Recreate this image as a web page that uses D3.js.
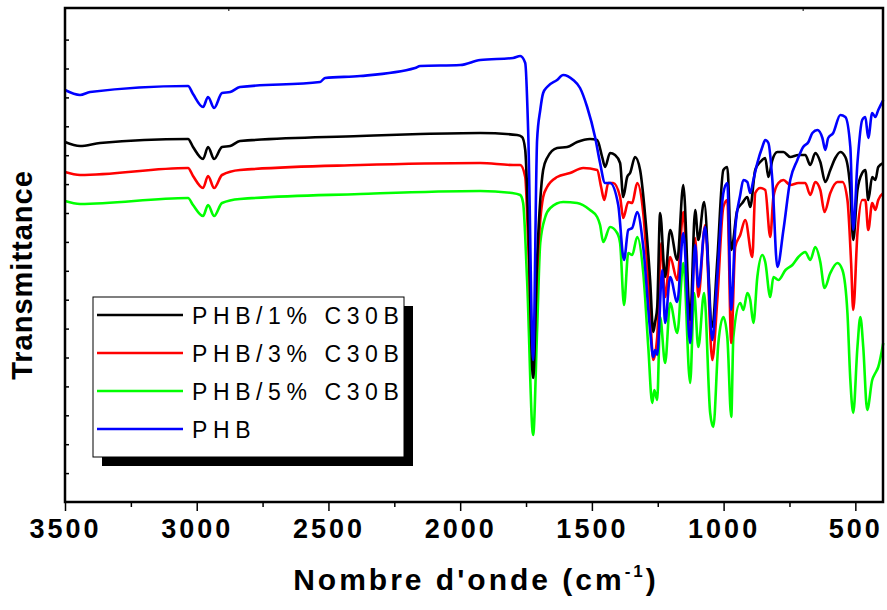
<!DOCTYPE html>
<html>
<head>
<meta charset="utf-8">
<script src="https://cdn.jsdelivr.net/npm/d3@7"></script>
<style>
  body { margin: 0; background: #fff; }
  text { font-family: "Liberation Sans", Arial, sans-serif; }
</style>
</head>
<body>
<div id="chart"></div>
<script>
// wavenumber (cm-1), transmittance (a.u.)
var phb = [[3500,412],[3443,407],[3405,410],[3033,416],[3014,408],[2976,395],[2957,405],[2934,394],[2904,409],[2873,410],[2836,415],[2532,420],[2513,424],[2380,426],[2171,434],[2152,436],[2000,437],[1924,442],[1799,444],[1772,446],[1753,439],[1742,372],[1723,142],[1708,362],[1696,392],[1685,409],[1670,415],[1632,422],[1609,427],[1571,422],[1545,414],[1518,395],[1488,365],[1469,339],[1450,319],[1431,319],[1400,297],[1378,242],[1362,272],[1347,274],[1328,290],[1305,255],[1279,172],[1267,145],[1260,152],[1252,147],[1233,232],[1222,179],[1203,225],[1176,200],[1153,269],[1127,159],[1108,257],[1096,215],[1070,275],[1043,162],[1024,225],[1001,309],[986,319],[971,192],[956,272],[937,307],[925,322],[910,320],[899,309],[887,322],[872,339],[853,355],[842,362],[830,359],[815,322],[796,235],[773,272],[747,322],[720,342],[698,355],[678,360],[663,369],[644,372],[625,364],[614,352],[603,364],[584,369],[557,387],[538,385],[519,355],[508,272],[492,339],[474,382],[462,385],[451,364],[436,389],[424,385],[413,392],[394,402]];

var phb1 = [[3500,360],[3443,356],[3367,359],[3033,363],[3014,355],[2976,343],[2957,355],[2934,343],[2904,355],[2873,356],[2836,361],[2380,366],[2152,368],[1924,369],[1784,367],[1765,365],[1753,352],[1742,282],[1723,124],[1708,242],[1696,302],[1685,332],[1670,344],[1632,354],[1594,355],[1556,360],[1507,363],[1480,362],[1461,345],[1450,335],[1431,349],[1412,347],[1393,339],[1381,305],[1366,325],[1355,329],[1336,345],[1317,332],[1298,287],[1279,222],[1267,170],[1260,180],[1252,195],[1241,289],[1222,225],[1203,272],[1176,242],[1153,317],[1127,182],[1108,292],[1096,262],[1074,300],[1043,175],[1024,242],[1001,332],[986,335],[971,252],[948,292],[929,299],[910,305],[899,295],[880,332],[861,340],[842,344],[830,325],[815,342],[796,350],[773,350],[747,345],[716,347],[690,347],[671,337],[652,349],[633,340],[614,320],[595,332],[576,344],[557,350],[538,345],[519,312],[508,262],[492,312],[474,329],[462,332],[451,302],[436,325],[424,322],[413,335],[394,339]];

var phb3 = [[3500,330],[3443,327],[3033,334],[3014,326],[2976,314],[2957,326],[2934,314],[2904,327],[2836,332],[2380,337],[1924,339],[1799,337],[1772,337],[1753,325],[1742,262],[1723,142],[1708,232],[1696,282],[1685,305],[1670,315],[1632,325],[1583,329],[1533,334],[1480,332],[1465,315],[1453,302],[1438,319],[1419,319],[1393,305],[1381,284],[1362,300],[1347,299],[1328,319],[1305,289],[1279,189],[1267,142],[1252,165],[1237,259],[1222,205],[1203,245],[1176,222],[1153,290],[1127,172],[1108,264],[1096,205],[1070,277],[1043,142],[1024,202],[1001,295],[986,302],[971,159],[956,255],[937,267],[918,282],[891,245],[880,309],[861,314],[842,312],[823,265],[811,305],[792,319],[773,322],[747,317],[716,319],[690,319],[671,307],[652,320],[633,312],[617,290],[595,309],[568,320],[549,320],[530,302],[516,239],[508,192],[492,269],[474,302],[462,302],[451,272],[436,299],[424,292],[413,302],[394,309]];

var phb5 = [[3500,301],[3443,298],[3033,304],[3014,297],[2976,286],[2957,297],[2934,286],[2904,299],[2836,303],[2380,308],[1924,311],[1803,309],[1772,307],[1761,299],[1746,222],[1723,67],[1708,172],[1696,259],[1677,285],[1658,294],[1609,300],[1556,299],[1507,292],[1480,285],[1469,277],[1457,260],[1431,275],[1404,269],[1393,259],[1378,197],[1362,249],[1347,247],[1328,265],[1305,229],[1286,155],[1271,99],[1263,112],[1252,102],[1241,185],[1222,139],[1203,199],[1176,169],[1153,239],[1127,119],[1112,209],[1096,155],[1074,209],[1051,89],[1039,75],[1020,159],[1001,185],[986,165],[971,85],[963,165],[937,199],[925,192],[910,209],[899,202],[887,179],[872,225],[853,247],[842,240],[823,205],[811,225],[792,222],[765,232],[739,237],[716,245],[690,250],[671,242],[652,255],[633,240],[617,214],[595,229],[568,239],[549,232],[530,189],[519,122],[508,89],[492,155],[481,185],[470,155],[455,92],[436,122],[424,129],[413,135],[394,159]];

var seriesNames = ["PHB/1% C30B", "PHB/3% C30B", "PHB/5% C30B", "PHB"];
var seriesColors = ["#000000", "#ff0000", "#00ff00", "#0000ff"];
var seriesData = [phb1, phb3, phb5, phb];

var majorTicks = [3500, 3000, 2500, 2000, 1500, 1000, 500];
var minorTicks = [3250, 2750, 2250, 1750, 1250, 750];
var topTicks = [2880, 700];

var margin = {top: 8, right: 4, bottom: 108, left: 65},
    width = 887 - margin.left - margin.right,
    height = 610 - margin.top - margin.bottom;

var svg = d3.select("#chart")
    .append("svg")
    .attr("width", width + margin.left + margin.right)
    .attr("height", height + margin.top + margin.bottom)
    .append("g")
    .attr("transform", "translate(" + margin.left + "," + margin.top + ")");

var x = d3.scaleLinear()
    .domain([3500, 395])
    .range([0, width]);

var y = d3.scaleLinear()
    .domain([0, 494])
    .range([height, 0]);

// left ticks every 28.9 units, no labels
var yTicks = d3.range(28.9, 480, 28.9);

// bottom axis: major with labels, minor without
var xAxis = svg.append("g")
    .attr("transform", "translate(0," + height + ")")
    .call(d3.axisBottom(x).tickValues(majorTicks).tickSize(9).tickPadding(8).tickFormat(d3.format("d")));
xAxis.select(".domain").remove();
xAxis.selectAll("line").attr("stroke-width", 1.5);
xAxis.selectAll("text")
    .attr("font-size", "27px")
    .attr("font-weight", "bold")
    .attr("letter-spacing", "3px")
    .attr("fill", "#000")
    .style("font-family", "'Liberation Sans', Arial, sans-serif");

var xMinor = svg.append("g")
    .attr("transform", "translate(0," + height + ")")
    .call(d3.axisBottom(x).tickValues(minorTicks).tickSize(5).tickFormat(""));
xMinor.select(".domain").remove();
xMinor.selectAll("line").attr("stroke-width", 1.5);

var xTop = svg.append("g")
    .call(d3.axisTop(x).tickValues(topTicks).tickSize(-3).tickFormat(""));
xTop.select(".domain").remove();

var yAxis = svg.append("g")
    .call(d3.axisLeft(y).tickValues(yTicks).tickSize(-4).tickFormat(""));
yAxis.select(".domain").remove();
yAxis.selectAll("line").attr("stroke-width", 1.5);

// lines
var line = d3.line()
    .x(function(d) { return x(d[0]); })
    .y(function(d) { return y(d[1]); })
    .curve(d3.curveMonotoneX);

var drawOrder = [2, 1, 0, 3];
drawOrder.forEach(function(i) {
    svg.append("path")
        .datum(seriesData[i])
        .attr("fill", "none")
        .attr("stroke", seriesColors[i])
        .attr("stroke-width", 2.6)
        .attr("stroke-linejoin", "round")
        .attr("d", line);
});

// frame
svg.append("rect")
    .attr("x", 0)
    .attr("y", 0)
    .attr("width", width)
    .attr("height", height)
    .attr("fill", "none")
    .attr("stroke", "#000")
    .attr("stroke-width", 2.5);

// legend
var legend = svg.append("g")
    .attr("transform", "translate(" + 28 + "," + 289 + ")");

legend.append("rect")
    .attr("x", 9)
    .attr("y", 9)
    .attr("width", 311)
    .attr("height", 160)
    .attr("fill", "#000");

legend.append("rect")
    .attr("x", 0)
    .attr("y", 0)
    .attr("width", 311)
    .attr("height", 160)
    .attr("fill", "#fff")
    .attr("stroke", "#000")
    .attr("stroke-width", 1);

seriesNames.forEach(function(name, i) {
    var ly = 18 + i * 38;
    legend.append("line")
        .attr("x1", 4)
        .attr("x2", 90)
        .attr("y1", ly)
        .attr("y2", ly)
        .attr("stroke", seriesColors[i])
        .attr("stroke-width", 2.6);
    legend.append("text")
        .attr("x", 99)
        .attr("y", ly + 9)
        .attr("font-size", "23px")
        .attr("letter-spacing", "5.6px")
        .text(name);
});

// axis titles
var xTitle = svg.append("text")
    .attr("x", width / 2 + 2)
    .attr("y", height + 88)
    .attr("text-anchor", "middle")
    .attr("font-size", "30px")
    .attr("font-weight", "bold")
    .attr("letter-spacing", "3px");
xTitle.append("tspan").text("Nombre d'onde (cm");
xTitle.append("tspan").attr("font-size", "17px").attr("dy", -13).text("-1");
xTitle.append("tspan").attr("dy", 13).text(")");

svg.append("text")
    .attr("transform", "translate(" + (-33) + "," + (height / 2 + 20) + ") rotate(-90)")
    .attr("text-anchor", "middle")
    .attr("font-size", "29px")
    .attr("font-weight", "bold")
    .attr("letter-spacing", "1px")
    .text("Transmittance");
</script>
</body>
</html>
